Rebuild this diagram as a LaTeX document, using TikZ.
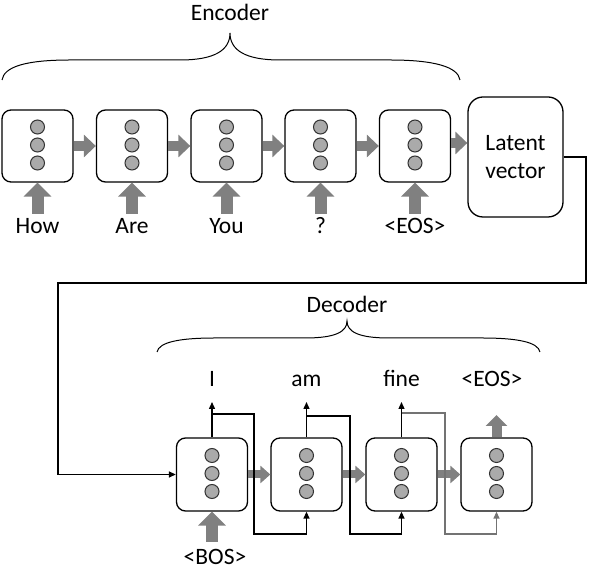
\documentclass[tikz,border=0pt]{standalone}
\usepackage{fontspec}
\setmainfont{Carlito}
\usetikzlibrary{arrows.meta,calc}
\definecolor{circgray}{RGB}{170,170,170}
\definecolor{arrgray}{RGB}{128,128,128}
\begin{document}
\begin{tikzpicture}[x=1pt,y=1pt,
  cell/.style={draw,line width=1.3pt,rounded corners=9pt,minimum width=71pt,minimum height=72pt,inner sep=0pt},
  dot/.style={circle,draw=black!80,fill=circgray,line width=1pt,minimum size=14pt,inner sep=0pt},
  lbl/.style={font=\fontsize{23.5}{27}\selectfont,inner sep=0pt},
  blk/.style={draw=arrgray,line width=10pt,-{Triangle[width=22pt,length=12pt]}},
  blks/.style={draw=arrgray,line width=8pt,-{Triangle[width=17pt,length=10pt]}},
  blkv/.style={draw=arrgray,line width=12pt,-{Triangle[width=27pt,length=14pt]}},
  blkt/.style={draw=arrgray,line width=10pt,-{Triangle[width=21pt,length=11pt]}},
  tarr/.style={line width=1.3pt,-{Triangle[length=7pt,width=6pt]}},
  brace/.style={line width=1pt},
]
\useasboundingbox (0,0) rectangle (590,570);
% encoder cells
\foreach \n/\x in {e1/37.5,e2/132,e3/226.5,e4/320.5,e5/415}{
  \node[cell] (\n) at (\x,424) {};
  \foreach \k/\dy in {a/19,b/1,c/-17}
    \node[dot] (\n\k) at ($(\n)+(0,\dy)$) {};
}
\node[cell,minimum width=95pt,minimum height=120pt,rounded corners=15pt,align=center,lbl] (lat) at (515.5,413) {Latent\\[1pt]vector};
% encoder arrows
\draw[blk] (e1.east) -- (e2.west);
\draw[blk] (e2.east) -- (e3.west);
\draw[blk] (e3.east) -- (e4.west);
\draw[blk] (e4.east) -- (e5.west);
\draw[blk] ([yshift=3pt]e5.east) -- ([yshift=3pt]e5.east -| lat.west);
% inputs
\foreach \n/\x/\t in {1/37.5/How,2/132/Are,3/226.5/You,4/320.5/?,5/415/<EOS>}{
  \node[lbl,anchor=base] (w\n) at (\x,336) {\t};
  \coordinate (u\n) at (\x,356);
  \draw[blkv] (u\n) -- (e\n.south);
}
% encoder brace
\draw[brace] (2,490) .. controls (4,503) and (25,510) .. (70,510) -- (180,510)
  .. controls (215,510) and (230,520) .. (230,537)
  .. controls (230,520) and (245,510) .. (280,510) -- (390,510)
  .. controls (435,510) and (458,503) .. (460,490);
\node[lbl,anchor=base] (enc) at (230,549) {Encoder};
% decoder cells
\foreach \n/\x in {d1/212,d2/306.5,d3/401.5,d4/496.5}{
  \node[cell,minimum height=73pt] (\n) at (\x,95.5) {};
  \foreach \k/\dy in {a/19,b/1,c/-17}
    \node[dot] (\n\k) at ($(\n)+(0,\dy)$) {};
}
% connector latent -> decoder
\draw[tarr] (lat.east) -- (586,413) -- (586,287) -- (58,287) -- (58,95.5) -- (d1.west);
% decoder state arrows
\draw[blks] (d1.east) -- (d2.west);
\draw[blks] (d2.east) -- (d3.west);
\draw[blks] (d3.east) -- (d4.west);
% outputs
\foreach \n/\x/\t in {1/212/I,2/306.5/am,3/401.5/fine}{
  \node[lbl,anchor=base] (o\n) at (\x,183) {\t};
  \coordinate (p\n) at (\x,168);
  \draw[tarr] (d\n.north) -- (p\n);
}
\node[lbl,anchor=base] (o4) at (492,183) {<EOS>};
\coordinate (p4) at (496.5,155);
\draw[blkt] (d4.north) -- (p4);
% feedback lines
\draw[tarr] (212,156) -- (254,156) -- (254,36) -| (d2.south);
\draw[tarr] (306.5,154) -- (350,154) -- (350,36) -| (d3.south);
\draw[tarr,draw=black!55] (401.5,157) -- (445,157) -- (445,36) -| (d4.south);
% BOS input
\node[lbl,anchor=base] (bos) at (215,5) {<BOS>};
\coordinate (b0) at (212,28);
\draw[blkv] (b0) -- (d1.south);
% decoder brace
\draw[brace] (157,218) .. controls (159,228) and (180,232) .. (215,232) -- (305,232)
  .. controls (335,232) and (347,238) .. (347,249)
  .. controls (347,238) and (359,232) .. (389,232) -- (482,232)
  .. controls (517,232) and (538,228) .. (540,218);
\node[lbl,anchor=base] (dec) at (347,257) {Decoder};
\end{tikzpicture}
\end{document}
